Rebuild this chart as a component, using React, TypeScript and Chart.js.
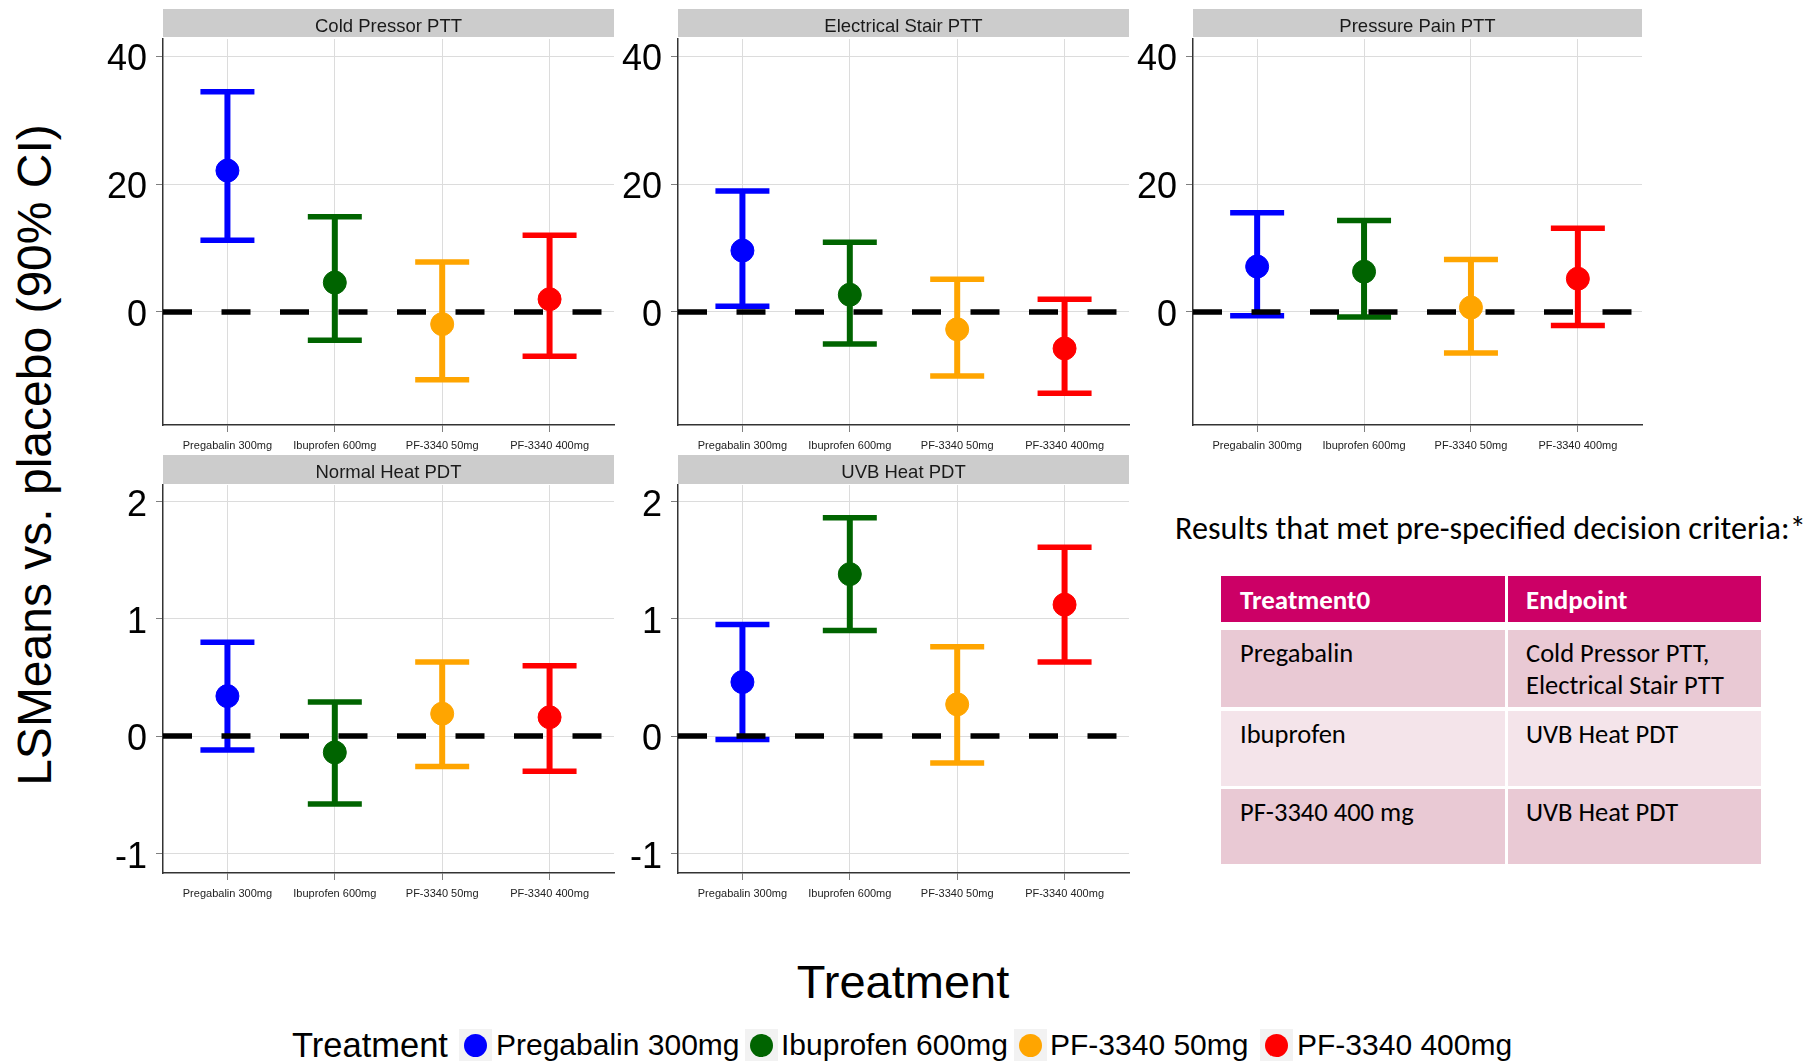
import React, { useEffect, useRef } from 'react';
import { Chart, registerables } from 'chart.js';

Chart.register(...registerables);

// ---------- data ----------
const TREATMENTS = ['Pregabalin 300mg', 'Ibuprofen 600mg', 'PF-3340 50mg', 'PF-3340 400mg'];
const TREATMENT_COLORS = ['#0000FF', '#006400', '#FFA500', '#FF0000'];
const CATEGORY_POSITIONS = [1, 2, 3, 4];
const X_RANGE = [0.4, 4.6];

const COLD_PRESSOR_MEAN = [22.1, 4.6, -1.9, 2.0];
const COLD_PRESSOR_LOWER = [11.2, -4.4, -10.6, -6.9];
const COLD_PRESSOR_UPPER = [34.4, 14.9, 7.8, 12.0];

const ELECTRICAL_STAIR_MEAN = [9.6, 2.7, -2.7, -5.7];
const ELECTRICAL_STAIR_LOWER = [0.9, -5.0, -10.0, -12.7];
const ELECTRICAL_STAIR_UPPER = [18.9, 10.9, 5.1, 2.0];

const PRESSURE_PAIN_MEAN = [7.1, 6.3, 0.7, 5.2];
const PRESSURE_PAIN_LOWER = [-0.6, -0.8, -6.4, -2.1];
const PRESSURE_PAIN_UPPER = [15.5, 14.3, 8.2, 13.1];

const NORMAL_HEAT_MEAN = [0.34, -0.14, 0.19, 0.16];
const NORMAL_HEAT_LOWER = [-0.12, -0.58, -0.26, -0.30];
const NORMAL_HEAT_UPPER = [0.80, 0.29, 0.63, 0.60];

const UVB_HEAT_MEAN = [0.46, 1.38, 0.27, 1.12];
const UVB_HEAT_LOWER = [-0.03, 0.90, -0.23, 0.63];
const UVB_HEAT_UPPER = [0.95, 1.86, 0.76, 1.61];

const PTT_TICKS = [0, 20, 40];
const PTT_RANGE = [-17.66, 42.66];
const PDT_TICKS = [-1, 0, 1, 2];
const PDT_RANGE = [-1.168, 2.14];
const REFERENCE_LINE = 0;

const TABLE_HEADER = ['Treatment0', 'Endpoint'];
const TABLE_TREATMENTS = ['Pregabalin', 'Ibuprofen', 'PF-3340 400 mg'];
const TABLE_ENDPOINTS = [['Cold Pressor PTT,', 'Electrical Stair PTT'], ['UVB Heat PDT'], ['UVB Heat PDT']];

// ---------- layout ----------
const ARIAL = '"Liberation Sans", Arial, Helvetica, sans-serif';
const CALIBRI = 'Carlito, Calibri, Lato, sans-serif';

const PANELS = [
  { title: 'Cold Pressor PTT', mean: COLD_PRESSOR_MEAN, lower: COLD_PRESSOR_LOWER, upper: COLD_PRESSOR_UPPER, ticks: PTT_TICKS, range: PTT_RANGE, left: 163, top: 39, width: 451, height: 386, stripTop: 9, stripH: 28 },
  { title: 'Electrical Stair PTT', mean: ELECTRICAL_STAIR_MEAN, lower: ELECTRICAL_STAIR_LOWER, upper: ELECTRICAL_STAIR_UPPER, ticks: PTT_TICKS, range: PTT_RANGE, left: 678, top: 39, width: 451, height: 386, stripTop: 9, stripH: 28 },
  { title: 'Pressure Pain PTT', mean: PRESSURE_PAIN_MEAN, lower: PRESSURE_PAIN_LOWER, upper: PRESSURE_PAIN_UPPER, ticks: PTT_TICKS, range: PTT_RANGE, left: 1193, top: 39, width: 449, height: 386, stripTop: 9, stripH: 28 },
  { title: 'Normal Heat PDT', mean: NORMAL_HEAT_MEAN, lower: NORMAL_HEAT_LOWER, upper: NORMAL_HEAT_UPPER, ticks: PDT_TICKS, range: PDT_RANGE, left: 163, top: 485, width: 451, height: 388, stripTop: 455, stripH: 29 },
  { title: 'UVB Heat PDT', mean: UVB_HEAT_MEAN, lower: UVB_HEAT_LOWER, upper: UVB_HEAT_UPPER, ticks: PDT_TICKS, range: PDT_RANGE, left: 678, top: 485, width: 451, height: 388, stripTop: 455, stripH: 29 },
];

const YW = 70;
const PT = 40;
const PR = 12;
const XH = 36;

function Panel({ cfg }: { cfg: any }) {
  const ref = useRef<HTMLCanvasElement>(null);
  useEffect(() => {
    if (!ref.current) return;
    const datasets: any[] = [];
    datasets.push({
      type: 'line',
      label: 'reference',
      data: [{ x: X_RANGE[0], y: REFERENCE_LINE }, { x: X_RANGE[1], y: REFERENCE_LINE }],
      borderColor: '#000000',
      borderWidth: 5.5,
      borderDash: [29, 29.5],
      borderCapStyle: 'butt',
      pointRadius: 0,
      order: 0,
    });
    datasets.push({
      type: 'scatter',
      label: 'mean',
      data: CATEGORY_POSITIONS.map((x, i) => ({ x, y: cfg.mean[i] })),
      pointBackgroundColor: TREATMENT_COLORS,
      pointBorderColor: TREATMENT_COLORS,
      pointRadius: 11.5,
      pointBorderWidth: 1,
      order: 1,
    });
    TREATMENTS.forEach((t, i) => {
      datasets.push({
        type: 'line',
        label: t,
        data: [{ x: CATEGORY_POSITIONS[i], y: cfg.lower[i] }, { x: CATEGORY_POSITIONS[i], y: cfg.upper[i] }],
        borderColor: TREATMENT_COLORS[i],
        borderWidth: 6,
        pointStyle: 'line',
        pointRadius: 27,
        pointHoverRadius: 27,
        pointBorderWidth: 5.5,
        pointBorderColor: TREATMENT_COLORS[i],
        order: 2,
      });
    });

    const chart = new Chart(ref.current, {
      type: 'scatter',
      data: { datasets },
      options: {
        animation: false,
        responsive: false,
        maintainAspectRatio: false,
        events: [],
        layout: { autoPadding: false, padding: { top: PT, right: PR, left: 0, bottom: 0 } },
        plugins: { legend: { display: false }, tooltip: { enabled: false }, title: { display: false } },
        scales: {
          x: {
            type: 'linear',
            min: X_RANGE[0],
            max: X_RANGE[1],
            offset: false,
            afterBuildTicks: (s: any) => { s.ticks = CATEGORY_POSITIONS.map((v) => ({ value: v })); },
            afterFit: (s: any) => { s.height = XH; s.paddingLeft = 0; s.paddingRight = 0; s.paddingTop = 0; s.paddingBottom = 0; },
            ticks: {
              autoSkip: false,
              maxRotation: 0,
              minRotation: 0,
              padding: 7,
              color: '#222222',
              font: { family: ARIAL, size: 11 },
              callback: (v: any) => {
                const idx = CATEGORY_POSITIONS.indexOf(Number(v));
                return idx >= 0 ? TREATMENTS[idx] : '';
              },
            },
            grid: { color: '#dcdcdc', lineWidth: 1, drawTicks: true, tickLength: 7, tickColor: '#7f7f7f', offset: false },
            border: { color: '#333333', width: 1.5 },
          },
          y: {
            type: 'linear',
            min: cfg.range[0],
            max: cfg.range[1],
            afterBuildTicks: (s: any) => { s.ticks = cfg.ticks.map((v: number) => ({ value: v })); },
            afterFit: (s: any) => { s.width = YW; s.paddingLeft = 0; s.paddingRight = 0; s.paddingTop = 0; s.paddingBottom = 0; },
            ticks: {
              padding: 9,
              labelOffset: 4.5,
              color: '#000000',
              font: { family: ARIAL, size: 36 },
              callback: (v: any) => String(v),
            },
            grid: { color: '#dcdcdc', lineWidth: 1, drawTicks: true, tickLength: 7, tickColor: '#7f7f7f' },
            border: { color: '#333333', width: 1.5 },
          },
        },
      } as any,
    });
    return () => chart.destroy();
  }, [cfg]);

  const w = YW + cfg.width + PR;
  const h = PT + cfg.height + XH;
  return (
    <canvas
      ref={ref}
      width={w}
      height={h}
      style={{ position: 'absolute', left: cfg.left - YW, top: cfg.top - PT, width: w, height: h }}
    />
  );
}

const LEGEND_KEY_CENTERS = [475, 761, 1030, 1276];
const LEGEND_LABEL_LEFTS = [496, 781, 1050, 1297];

export default function App() {
  return (
    <div style={{ position: 'absolute', left: 0, top: 0, width: 1820, height: 1063, background: '#ffffff', overflow: 'hidden', fontFamily: ARIAL }}>
      {PANELS.map((p) => <Panel key={p.title} cfg={p} />)}
      {PANELS.map((p) => (
        <div
          key={'strip-' + p.title}
          style={{
            position: 'absolute', left: p.left, top: p.stripTop, width: p.width, height: p.stripH,
            background: '#cccccc', color: '#1a1a1a', fontSize: 18.5, fontFamily: ARIAL,
            display: 'flex', alignItems: 'center', justifyContent: 'center',
          }}
        >
          <span style={{ position: 'relative', top: 3, lineHeight: 1 }}>{p.title}</span>
        </div>
      ))}

      {/* y axis title */}
      <div style={{ position: 'absolute', left: 35, top: 455, transform: 'translate(-50%, -50%) rotate(-90deg)', whiteSpace: 'nowrap', fontSize: 48, lineHeight: 1, color: '#000' }}>
        LSMeans vs. placebo (90% CI)
      </div>

      {/* x axis title */}
      <div style={{ position: 'absolute', left: 903, top: 981, transform: 'translate(-50%, -50%)', whiteSpace: 'nowrap', fontSize: 47, lineHeight: 1, color: '#000' }}>
        Treatment
      </div>

      {/* legend */}
      <div style={{ position: 'absolute', left: 292, top: 1045, transform: 'translateY(-50%)', whiteSpace: 'nowrap', fontSize: 34.5, lineHeight: 1, color: '#000' }}>
        Treatment
      </div>
      {TREATMENTS.map((t, i) => (
        <React.Fragment key={'leg-' + t}>
          <div style={{ position: 'absolute', left: LEGEND_KEY_CENTERS[i] - 16.5, top: 1045 - 16, width: 33, height: 32, background: '#f2f2f2' }}>
            <div style={{ position: 'absolute', left: 5, top: 4.5, width: 23, height: 23, borderRadius: '50%', background: TREATMENT_COLORS[i] }} />
          </div>
          <div style={{ position: 'absolute', left: LEGEND_LABEL_LEFTS[i], top: 1045, transform: 'translateY(-50%)', whiteSpace: 'nowrap', fontSize: 30, lineHeight: 1, color: '#000' }}>
            {t}
          </div>
        </React.Fragment>
      ))}

      {/* decision criteria note */}
      <div style={{ position: 'absolute', left: 1175, top: 528, transform: 'translateY(-50%)', whiteSpace: 'nowrap', fontFamily: CALIBRI, fontSize: 32.2, lineHeight: 1, color: '#000' }}>
        Results that met pre-specified decision criteria:*
      </div>

      {/* table */}
      <div style={{ position: 'absolute', left: 1221, top: 576, width: 284, height: 46, background: '#CC0066', color: '#fff', fontFamily: CALIBRI, fontWeight: 700, fontSize: 27, display: 'flex', alignItems: 'center', paddingLeft: 19, boxSizing: 'border-box' }}>
        {TABLE_HEADER[0]}
      </div>
      <div style={{ position: 'absolute', left: 1508, top: 576, width: 253, height: 46, background: '#CC0066', color: '#fff', fontFamily: CALIBRI, fontWeight: 700, fontSize: 27, display: 'flex', alignItems: 'center', paddingLeft: 18, boxSizing: 'border-box' }}>
        {TABLE_HEADER[1]}
      </div>
      {TABLE_TREATMENTS.map((tr, i) => {
        const tops = [630, 711, 789];
        const heights = [77, 75, 75];
        const bg = i === 1 ? '#F4E4EA' : '#E9C9D4';
        return (
          <React.Fragment key={'row-' + tr}>
            <div style={{ position: 'absolute', left: 1221, top: tops[i], width: 284, height: heights[i], background: bg, color: '#000', fontFamily: CALIBRI, fontSize: 26.5, lineHeight: '32px', paddingLeft: 19, paddingTop: 7, boxSizing: 'border-box' }}>
              {tr}
            </div>
            <div style={{ position: 'absolute', left: 1508, top: tops[i], width: 253, height: heights[i], background: bg, color: '#000', fontFamily: CALIBRI, fontSize: 26.5, lineHeight: '32px', paddingLeft: 18, paddingTop: 7, boxSizing: 'border-box' }}>
              {TABLE_ENDPOINTS[i].map((line) => <div key={line}>{line}</div>)}
            </div>
          </React.Fragment>
        );
      })}
    </div>
  );
}
